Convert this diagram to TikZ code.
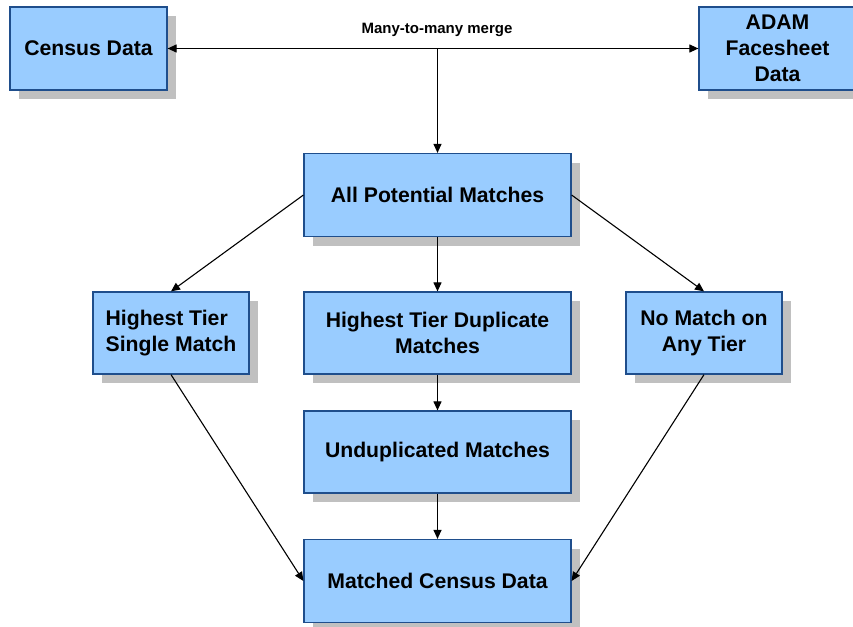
\documentclass[tikz,border=0pt]{standalone}
\usepackage{fontspec}
\setmainfont{Liberation Sans}
\usetikzlibrary{shadows,arrows.meta}
\definecolor{boxc}{HTML}{99CCFF}
\definecolor{bordc}{HTML}{1F4E8C}
\definecolor{shadc}{HTML}{C0C0C0}
\tikzset{
  box/.style={draw=bordc, fill=boxc, line width=1.2pt, inner sep=0pt,
    align=center, font=\fontsize{21.2}{26}\selectfont\bfseries,
    drop shadow={shadow xshift=9pt, shadow yshift=-9pt, fill=shadc, opacity=1}},
  conn/.style={line width=1.1pt, -{Triangle[length=9pt,width=8pt]}},
  biconn/.style={line width=1.1pt, {Triangle[length=9pt,width=8pt]}-{Triangle[length=9pt,width=8pt]}}
}
\begin{document}
\begin{tikzpicture}[x=1pt,y=-1pt]
\useasboundingbox[fill=white] (0,0) rectangle (853,626);
\node[box, minimum width=157pt, minimum height=83pt] (census) at (88.5,48.5) {Census Data};
\node[box, minimum width=157pt, minimum height=83pt] (adam) at (777.5,48.5) {ADAM\\Facesheet\\Data};
\node[box, minimum width=267pt, minimum height=83pt] (allpot) at (437.5,195) {All Potential Matches};
\node[box, align=left, minimum width=156pt, minimum height=82pt] (single) at (171,333) {Highest Tier\\Single Match};
\node[box, minimum width=267pt, minimum height=82pt] (dup) at (437.5,333) {Highest Tier Duplicate\\Matches};
\node[box, minimum width=156pt, minimum height=82pt] (nomatch) at (704,333) {No Match on\\Any Tier};
\node[box, minimum width=267pt, minimum height=82pt] (undup) at (437.5,452) {Unduplicated Matches};
\node[box, minimum width=267pt, minimum height=83pt] (matched) at (437.5,581) {Matched Census Data};
\node[font=\fontsize{15}{18}\selectfont\bfseries] (lbl) at (437,30) {Many-to-many merge};
\coordinate (m) at (437.5,48.5);
\draw[biconn] (census) -- (adam);
\draw[conn] (m) -- (allpot.north);
\draw[conn] (allpot.west) -- (single.north);
\draw[conn] (allpot.east) -- (nomatch.north);
\draw[conn] (allpot.south) -- (dup.north);
\draw[conn] (dup.south) -- (undup.north);
\draw[conn] (undup.south) -- (matched.north);
\draw[conn] (single.south) -- (matched.west);
\draw[conn] (nomatch.south) -- (matched.east);
\end{tikzpicture}
\end{document}
